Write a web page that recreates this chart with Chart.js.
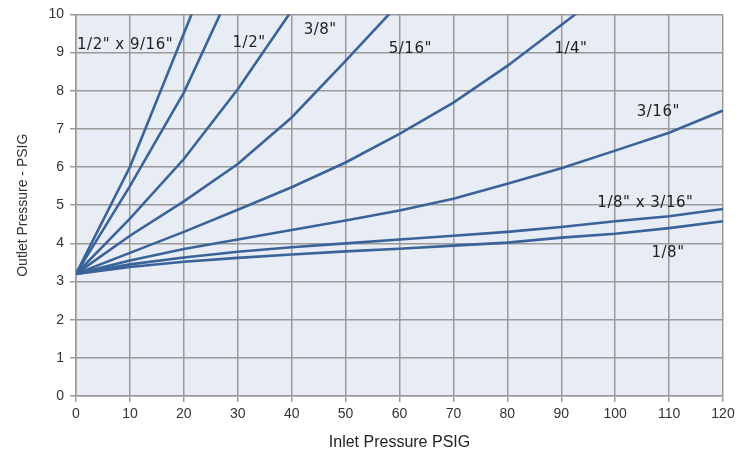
<!DOCTYPE html>
<html>
<head>
<meta charset="utf-8">
<script src="https://cdn.jsdelivr.net/npm/chart.js@4.4.0/dist/chart.umd.min.js"></script>
<style>
  html, body { margin: 0; padding: 0; background: #fff; }
  #wrap { width: 745px; height: 456px; }
</style>
</head>
<body>
<div id="wrap"><canvas id="pressure"></canvas></div>
<script>
// inlet pressure (x) in PSIG
var inlet = [0, 10, 20, 30, 40, 50, 60, 70, 80, 90, 100, 110, 120];

// outlet pressure per orifice size (points above 10 are clipped)
var size_half_9_16 = [3.2, 6.0, 9.5, 13.0];
var size_half      = [3.2, 5.5, 7.95, 11.0];
var size_3_8       = [3.2, 4.65, 6.21, 8.04, 10.1];
var size_5_16      = [3.2, 4.2, 5.1, 6.08, 7.3, 8.78, 10.3];
var size_1_4       = [3.2, 3.75, 4.3, 4.88, 5.47, 6.12, 6.87, 7.69, 8.65, 9.72, 10.8];
var size_3_16      = [3.2, 3.55, 3.85, 4.1, 4.35, 4.6, 4.86, 5.17, 5.56, 5.97, 6.43, 6.9, 7.48];
var size_1_8_3_16  = [3.2, 3.45, 3.63, 3.78, 3.9, 4.0, 4.1, 4.2, 4.3, 4.43, 4.58, 4.71, 4.9];
var size_1_8       = [3.2, 3.38, 3.52, 3.62, 3.71, 3.79, 3.86, 3.94, 4.02, 4.15, 4.25, 4.4, 4.58];

var seriesNames = ['1/2" x 9/16"', '1/2"', '3/8"', '5/16"', '1/4"', '3/16"', '1/8" x 3/16"', '1/8"'];
var seriesValues = [size_half_9_16, size_half, size_3_8, size_5_16, size_1_4, size_3_16, size_1_8_3_16, size_1_8];

var xTicks = [0, 10, 20, 30, 40, 50, 60, 70, 80, 90, 100, 110, 120];
var yTicks = [0, 1, 2, 3, 4, 5, 6, 7, 8, 9, 10];

// where each size label sits, in chart units
var labelAnchors = [
  [9.1, 9.2], [32.1, 9.25], [45.3, 9.6], [62, 9.1],
  [91.8, 9.1], [108, 7.45], [105.6, 5.05], [109.8, 3.75]
];

var lineColor = "#3A6399";

var datasets = seriesValues.map(function (vals, i) {
  return {
    label: seriesNames[i],
    data: vals.map(function (v, j) { return { x: inlet[j], y: v }; }),
    borderColor: lineColor,
    backgroundColor: lineColor,
    borderWidth: 2.6,
    pointRadius: 0,
    tension: 0,
    fill: false
  };
});

var plotBg = {
  id: 'plotBg',
  beforeDraw: function (chart) {
    var a = chart.chartArea, c = chart.ctx;
    c.save();
    c.fillStyle = "#E8ECF4";
    c.fillRect(a.left, a.top, a.right - a.left, a.bottom - a.top);
    c.restore();
  }
};

var sizeLabels = {
  id: 'sizeLabels',
  afterDatasetsDraw: function (chart) {
    var c = chart.ctx, xs = chart.scales.x, ys = chart.scales.y;
    c.save();
    c.font = "15px 'DejaVu Sans'";
    c.letterSpacing = "0.5px";
    c.fillStyle = "#222";
    c.textAlign = "center";
    c.textBaseline = "middle";
    seriesNames.forEach(function (name, i) {
      c.fillText(name, xs.getPixelForValue(labelAnchors[i][0]), ys.getPixelForValue(labelAnchors[i][1]));
    });
    c.restore();
  }
};

var ctx1 = document.getElementById("pressure");
var pressure = new Chart(ctx1, {
  type: 'line',
  data: { datasets: datasets },
  plugins: [plotBg, sizeLabels],
  options: {
    responsive: true,
    maintainAspectRatio: false,
    animation: false,
    layout: { padding: { top: 13, right: 22, left: 11, bottom: 0 } },
    plugins: { legend: { display: false }, tooltip: { enabled: false } },
    scales: {
      x: {
        type: 'linear',
        min: 0, max: 120,
        afterBuildTicks: function (s) { s.ticks = xTicks.map(function (v) { return { value: v }; }); },
        afterFit: function (s) { s.height = 60; },
        grid: { color: "#9A9A9A", lineWidth: 1.5, tickLength: 6, drawTicks: true },
        border: { color: "#9A9A9A", width: 1.5 },
        ticks: { color: "#333", font: { family: "'Liberation Sans'", size: 14 }, padding: 4, maxRotation: 0 },
        title: { display: true, text: 'Inlet Pressure PSIG', color: "#222", font: { family: "'Liberation Sans'", size: 16 }, padding: { top: 7 } }
      },
      y: {
        min: 0, max: 10,
        afterBuildTicks: function (s) { s.ticks = yTicks.map(function (v) { return { value: v }; }); },
        afterFit: function (s) { s.width = 65; },
        grid: { color: "#9A9A9A", lineWidth: 1.5, tickLength: 6, drawTicks: true },
        border: { color: "#9A9A9A", width: 1.5 },
        ticks: { color: "#333", font: { family: "'Liberation Sans'", size: 14 }, padding: 6 },
        title: { display: true, text: 'Outlet Pressure - PSIG', color: "#333", font: { family: "'Liberation Sans'", size: 14 }, padding: { bottom: 10 } }
      }
    }
  }
});
</script>
</body>
</html>
